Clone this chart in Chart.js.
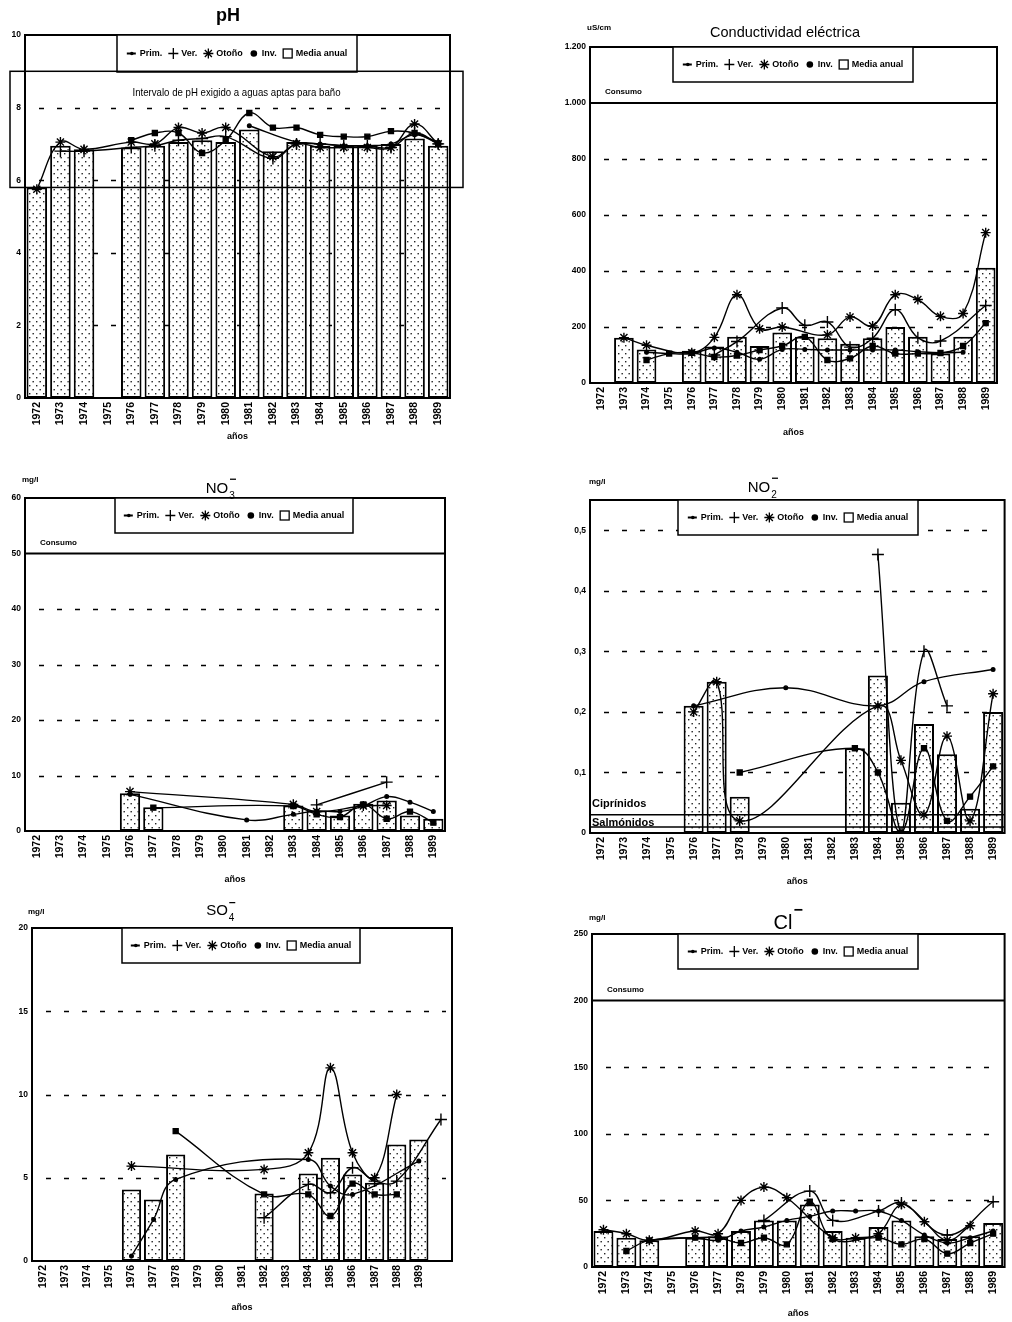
<!DOCTYPE html>
<html><head><meta charset="utf-8">
<script src="https://cdn.jsdelivr.net/npm/chart.js@4.4.0/dist/chart.umd.min.js"></script>
<style>
body{margin:0;background:#fff;width:1012px;height:1322px;position:relative;overflow:hidden}
canvas{position:absolute}
</style></head><body>
<canvas id="c1"></canvas><canvas id="c2"></canvas><canvas id="c3"></canvas>
<canvas id="c4"></canvas><canvas id="c5"></canvas><canvas id="c6"></canvas>
<script>
// ---------------- DATA ----------------
const years = ['1972','1973','1974','1975','1976','1977','1978','1979','1980','1981','1982','1983','1984','1985','1986','1987','1988','1989'];
const yearsSO4 = years.concat(['']);

// pH
const phMedia = [5.8,6.95,6.85,null,6.9,6.95,7.05,7.1,7.05,7.4,6.8,7.05,6.95,6.95,6.95,7.0,7.15,6.95];
const phPrim  = [null,null,null,null,null,null,null,null,null,7.5,null,7.05,7.0,6.95,6.95,7.0,7.25,7.05];
const phVer   = [null,6.8,6.8,null,6.9,6.95,7.1,7.15,7.2,null,6.6,7.0,7.0,6.95,6.95,6.9,7.3,7.0];
const phOtono = [5.75,7.05,6.85,null,7.05,7.0,7.45,7.3,7.45,null,6.65,7.0,6.9,6.9,6.9,6.9,7.55,7.0];
const phInv   = [null,null,null,null,7.1,7.3,7.3,6.75,7.1,7.85,7.45,7.45,7.25,7.2,7.2,7.35,7.3,7.0];
const phTicks = [0,2,4,6,8,10];
const phTickLabels = ['0','2','4','6','8','10'];
const phRange = [5.8, 9];

// Conductividad eléctrica (uS/cm)
const condMedia = [null,162,120,null,115,130,165,132,180,165,160,140,160,200,165,105,165,412];
const condPrim  = [null,null,110,105,105,125,110,85,120,120,118,118,118,118,112,108,110,null];
const condVer   = [null,null,null,null,null,100,148,null,268,206,218,128,160,262,162,150,null,277];
const condOtono = [null,162,135,null,108,163,315,194,200,null,172,236,204,315,298,238,248,537];
const condInv   = [null,null,82,105,108,93,98,118,132,165,82,88,132,105,105,107,132,214];
const condTicks = [0,200,400,600,800,1000,1200];
const condTickLabels = ['0','200','400','600','800','1.000','1.200'];
const condConsumo = 1000;

// NO3 (mg/l)
const no3Media = [null,null,null,null,6.8,4.3,null,null,null,null,null,4.6,3.7,2.8,4.9,5.5,2.8,2.2];
const no3Prim  = [null,null,null,null,6.6,null,null,null,null,2.0,null,3.0,3.6,3.5,4.5,6.2,5.2,3.5];
const no3Ver   = [null,null,null,null,null,null,null,null,null,null,null,null,4.7,null,null,8.8,null,null];
const no3Otono = [null,null,null,null,7.1,null,null,null,null,null,null,4.8,3.5,null,4.5,4.6,null,null];
const no3Inv   = [null,null,null,null,null,4.2,null,null,null,null,null,4.5,3.0,2.5,4.8,2.2,3.5,1.5];
const no3Ticks = [0,10,20,30,40,50,60];
const no3TickLabels = ['0','10','20','30','40','50','60'];
const no3Consumo = 50;

// NO2 (mg/l)
const no2Media = [null,null,null,null,0.21,0.25,0.06,null,null,null,null,0.14,0.26,0.05,0.18,0.13,0.04,0.20];
const no2Prim  = [null,null,null,null,0.21,null,null,null,0.24,null,null,null,0.21,null,0.25,null,null,0.27];
const no2Ver   = [null,null,null,null,null,null,null,null,null,null,null,null,0.46,0.0,0.30,0.21,null,null];
const no2Otono = [null,null,null,null,0.20,0.25,0.02,null,null,null,null,null,0.21,0.12,0.03,0.16,0.02,0.23];
const no2Inv   = [null,null,null,null,null,null,0.10,null,null,null,null,0.14,0.10,0.0,0.14,0.02,0.06,0.11];
const no2Ticks = [0,0.1,0.2,0.3,0.4,0.5];
const no2TickLabels = ['0','0,1','0,2','0,3','0,4','0,5'];
const no2Ciprinidos = 0.03;
const no2Salmonidos = 0.01;

// SO4 (mg/l)
const so4Media = [null,null,null,null,4.3,3.7,6.4,null,null,null,4.05,null,5.25,6.2,5.2,4.7,7.0,7.3,null];
const so4Prim  = [null,null,null,null,0.3,2.5,4.9,null,null,null,null,null,6.1,4.5,4.0,null,null,6.0,null];
const so4Ver   = [null,null,null,null,null,null,null,null,null,null,2.6,null,4.6,4.1,5.6,4.8,4.8,null,8.5];
const so4Otono = [null,null,null,null,5.7,null,null,null,null,null,5.5,null,6.5,11.6,6.5,5.0,10.0,null,null];
const so4Inv   = [null,null,null,null,null,null,7.8,null,null,null,4.0,null,4.0,2.7,4.65,4.0,4.0,null,null];
const so4Ticks = [0,5,10,15,20];
const so4TickLabels = ['0','5','10','15','20'];

// Cl (mg/l)
const clMedia = [27,22,20,null,22,23,27,35,35,47,27,22,30,35,23,21,23,33];
const clPrim  = [null,null,20,null,22,20,27,30,35,38,42,42,42,35,24,18,22,27];
const clVer   = [null,null,null,null,null,null,null,35,null,57,35,null,42,48,null,24,null,49];
const clOtono = [28,25,20,null,27,25,50,60,52,null,22,22,25,47,34,20,31,null];
const clInv   = [null,12,20,null,22,22,18,22,17,49,21,null,22,17,21,10,18,25];
const clTicks = [0,50,100,150,200,250];
const clTickLabels = ['0','50','100','150','200','250'];
const clConsumo = 200;

// ---------------- DRAWING ----------------
const FONT = "'Liberation Sans', Arial, sans-serif";

function dotPattern(){
  const c=document.createElement('canvas'); c.width=7; c.height=8;
  const x=c.getContext('2d'); x.fillStyle='#fff'; x.fillRect(0,0,7,8);
  x.fillStyle='#222'; x.fillRect(1,1,1.4,1.4); x.fillRect(4.5,5,1.4,1.4);
  return x.createPattern(c,'repeat');
}

function drawMark(ctx,m,x,y){
  ctx.save(); ctx.strokeStyle='#000'; ctx.fillStyle='#000'; ctx.lineWidth=1.3; ctx.setLineDash([]);
  if(m==='line'){ctx.lineWidth=2; ctx.beginPath(); ctx.moveTo(x-5,y); ctx.lineTo(x+4,y); ctx.stroke(); ctx.beginPath(); ctx.arc(x,y,1.8,0,7); ctx.fill();}
  else if(m==='cross'){ctx.beginPath(); ctx.moveTo(x-5,y); ctx.lineTo(x+5,y); ctx.moveTo(x,y-5.5); ctx.lineTo(x,y+5.5); ctx.stroke();}
  else if(m==='star'){ctx.beginPath(); for(let k=0;k<4;k++){const an=k*Math.PI/4; ctx.moveTo(x-5*Math.cos(an),y-5*Math.sin(an)); ctx.lineTo(x+5*Math.cos(an),y+5*Math.sin(an));} ctx.stroke();}
  else if(m==='dot'){ctx.beginPath(); ctx.arc(x,y,3.3,0,7); ctx.fill();}
  else if(m==='box'){ctx.fillStyle='#fff'; ctx.fillRect(x-4.5,y-4.5,9,9); ctx.lineWidth=1.3; ctx.strokeRect(x-4.5,y-4.5,9,9);}
  ctx.restore();
}

function drawLegend(ctx,x0,y0,x1,y1){
  ctx.save();
  ctx.fillStyle='#fff'; ctx.fillRect(x0,y0,x1-x0,y1-y0);
  ctx.strokeStyle='#000'; ctx.lineWidth=1.5; ctx.setLineDash([]); ctx.strokeRect(x0,y0,x1-x0,y1-y0);
  ctx.font='bold 9px '+FONT;
  const items=[['line','Prim.'],['cross','Ver.'],['star','Otoño'],['dot','Inv.'],['box','Media anual']];
  const markW=13, gap=6;
  const total=items.reduce((t,[m,l])=>t+markW+ctx.measureText(l).width+gap,0)-gap;
  let x=(x0+x1)/2-total/2; const cy=(y0+y1)/2;
  items.forEach(([m,l])=>{
    drawMark(ctx,m,x+5,cy);
    ctx.fillStyle='#000'; ctx.textBaseline='middle'; ctx.textAlign='left';
    ctx.fillText(l,x+markW,cy+0.5);
    x+=markW+ctx.measureText(l).width+gap;
  });
  ctx.restore();
}

function drawChem(ctx,cx,cy,base,sub,sup,size,weight){
  ctx.save(); ctx.fillStyle='#000'; ctx.textBaseline='middle'; ctx.textAlign='left';
  ctx.font=(weight||'')+' '+size+'px '+FONT;
  const w=ctx.measureText(base).width;
  const x0=cx-w/2;
  ctx.fillText(base,x0,cy);
  ctx.font=(weight||'')+' '+Math.round(size*0.65)+'px '+FONT;
  if(sub) ctx.fillText(sub,x0+w+1,cy+size*0.5);
  if(sup){ ctx.font='bold '+Math.round(size*0.8)+'px '+FONT; ctx.fillText(sup,x0+w+1,cy-size*0.62); }
  ctx.restore();
}

function deco(s){
  return {id:'deco',
    beforeDatasetsDraw(chart){
      const {ctx,chartArea:a,scales:{y}}=chart;
      ctx.save(); ctx.strokeStyle='#000'; ctx.lineWidth=1.5; ctx.setLineDash([5,13]);
      s.gridVals.forEach(v=>{const py=Math.round(y.getPixelForValue(v))+0.5; ctx.beginPath(); ctx.moveTo(a.left+14,py); ctx.lineTo(a.right-6,py); ctx.stroke();});
      ctx.restore();
    },
    afterDatasetsDraw(chart){
      const {ctx,chartArea:a,scales:{y}}=chart;
      const [cl,ct]=s.box;
      ctx.save(); ctx.setLineDash([]); ctx.strokeStyle='#000'; ctx.fillStyle='#000';
      ctx.lineWidth=2; ctx.strokeRect(a.left,a.top,a.right-a.left,a.bottom-a.top);
      if(s.consumo!=null){
        const py=y.getPixelForValue(s.consumo);
        ctx.lineWidth=2; ctx.beginPath(); ctx.moveTo(a.left,py); ctx.lineTo(a.right,py); ctx.stroke();
        ctx.font='bold 8px '+FONT; ctx.textBaseline='alphabetic'; ctx.textAlign='left';
        ctx.fillText('Consumo',a.left+15,py-9);
      }
      (s.limits||[]).forEach(l=>{
        const py=y.getPixelForValue(l.v);
        ctx.lineWidth=1.5; ctx.beginPath(); ctx.moveTo(a.left,py); ctx.lineTo(a.right,py); ctx.stroke();
        ctx.font='bold 11px '+FONT; ctx.textBaseline='alphabetic'; ctx.textAlign='left';
        ctx.fillText(l.label,a.left+2,py-l.off);
      });
      if(s.legend){ const [x0,y0,x1,y1]=s.legend; drawLegend(ctx,x0-cl,y0-ct,x1-cl,y1-ct); }
      if(s.phBox){
        const yt=y.getPixelForValue(s.phBox.hi), yb=y.getPixelForValue(s.phBox.lo);
        ctx.lineWidth=1.5; ctx.strokeRect(a.left-15,yt,(a.right-a.left)+28,yb-yt);
        ctx.font="11px "+FONT; ctx.textAlign='center'; ctx.textBaseline='middle';
        const tw=ctx.measureText(s.phBox.text).width, target=208;
        const cx=(a.left+a.right)/2-1;
        ctx.translate(cx,yt+22); ctx.scale(target/tw,1);
        ctx.fillText(s.phBox.text,0,0);
      }
      ctx.restore();
    },
    afterDraw(chart){
      const ctx=chart.ctx; const [cl,ct]=s.box;
      ctx.save();
      const t=s.title;
      drawChem(ctx,t.x-cl,t.y-ct,t.base,t.sub,t.sup,t.size,t.weight);
      if(s.unit){ ctx.font='bold 8px '+FONT; ctx.fillStyle='#000'; ctx.textAlign='left'; ctx.textBaseline='middle'; ctx.fillText(s.unit.text,s.unit.x-cl,s.unit.y-ct); }
      ctx.restore();
    }
  };
}

function makeChart(s){
  const cv=document.getElementById(s.id);
  const [cl,ct,cw,ch]=s.box;
  cv.style.left=cl+'px'; cv.style.top=ct+'px'; cv.width=cw; cv.height=ch;
  const [L,T,R,B]=s.plot;
  const yW=L-cl, xH=ct+ch-B;
  const pattern=dotPattern();
  const lineDs=(label,data,style,r)=>({type:'line',label,data,borderColor:'#000',backgroundColor:'#000',
    pointBorderColor:'#000',pointBackgroundColor:'#000',borderWidth:1.4,pointStyle:style,pointRadius:r,
    pointBorderWidth:1.4,tension:0.4,spanGaps:true,order:1,fill:false});
  new Chart(cv,{
    type:'bar',
    data:{labels:s.labels,datasets:[
      {type:'bar',label:'Media anual',data:s.media,backgroundColor:pattern,borderColor:'#000',borderWidth:2,
       borderSkipped:false,barPercentage:0.87,categoryPercentage:1,order:5},
      lineDs('Prim.',s.prim,'circle',1.8),
      lineDs('Ver.',s.ver,'cross',6),
      lineDs('Otoño',s.otono,'star',5),
      lineDs('Inv.',s.inv,'rect',3.5)
    ]},
    options:{responsive:false,animation:false,events:[],devicePixelRatio:1,
      layout:{padding:{top:T-ct,right:cl+cw-R,left:0,bottom:0}},
      plugins:{legend:{display:false},tooltip:{enabled:false},title:{display:false}},
      scales:{
        x:{grid:{display:false,drawTicks:false},border:{display:false},
           ticks:{autoSkip:false,minRotation:90,maxRotation:90,color:'#000',font:{family:FONT,size:10.5,weight:'bold'},padding:4},
           title:{display:true,text:'años',color:'#000',font:{family:FONT,size:9,weight:'bold'},padding:0},
           afterFit:sc=>{sc.height=xH;}},
        y:{min:0,max:s.yMax,grid:{display:false,drawTicks:false},border:{display:false},
           afterBuildTicks:sc=>{sc.ticks=s.ticks.map(v=>({value:v}));},
           ticks:{color:'#000',font:{family:FONT,size:8.5,weight:'bold'},padding:4,
             callback:(v)=>{const i=s.ticks.findIndex(t=>Math.abs(t-v)<1e-9);return i>=0?s.tickLabels[i]:'';}},
           afterFit:sc=>{sc.width=yW;}}
      }},
    plugins:[deco(s)]
  });
}

makeChart({id:'c1',box:[0,0,470,442],plot:[25,35,450,398],labels:years,
  media:phMedia,prim:phPrim,ver:phVer,otono:phOtono,inv:phInv,
  yMax:10,ticks:phTicks,tickLabels:phTickLabels,gridVals:[2,4,6,8],
  legend:[117,35,357,72],
  phBox:{lo:phRange[0],hi:phRange[1],text:'Intervalo de pH exigido a aguas aptas para baño'},
  title:{x:228,y:16,base:'pH',size:18,weight:'bold'}});

makeChart({id:'c2',box:[540,0,472,438],plot:[590,47,997,383],labels:years,
  media:condMedia,prim:condPrim,ver:condVer,otono:condOtono,inv:condInv,
  yMax:1200,ticks:condTicks,tickLabels:condTickLabels,gridVals:[200,400,600,800],
  consumo:condConsumo,legend:[673,47,913,82],
  title:{x:785,y:33,base:'Conductividad eléctrica',size:14.5,weight:''},
  unit:{text:'uS/cm',x:587,y:28}});

makeChart({id:'c3',box:[0,470,470,415],plot:[25,498,445,831],labels:years,
  media:no3Media,prim:no3Prim,ver:no3Ver,otono:no3Otono,inv:no3Inv,
  yMax:60,ticks:no3Ticks,tickLabels:no3TickLabels,gridVals:[10,20,30,40],
  consumo:no3Consumo,legend:[115,498,353,533],
  title:{x:217,y:489,base:'NO',sub:'3',sup:'−',size:15,weight:''},
  unit:{text:'mg/l',x:22,y:480}});

makeChart({id:'c4',box:[540,470,472,417],plot:[590,500,1005,833],labels:years,
  media:no2Media,prim:no2Prim,ver:no2Ver,otono:no2Otono,inv:no2Inv,
  yMax:0.55,ticks:no2Ticks,tickLabels:no2TickLabels,gridVals:[0.1,0.2,0.3,0.4,0.5],
  limits:[{v:no2Ciprinidos,label:'Ciprínidos',off:8},{v:no2Salmonidos,label:'Salmónidos',off:1}],
  legend:[678,500,918,535],
  title:{x:759,y:488,base:'NO',sub:'2',sup:'−',size:15,weight:''},
  unit:{text:'mg/l',x:589,y:482}});

makeChart({id:'c5',box:[0,900,470,413],plot:[32,928,452,1261],labels:yearsSO4,
  media:so4Media,prim:so4Prim,ver:so4Ver,otono:so4Otono,inv:so4Inv,
  yMax:20,ticks:so4Ticks,tickLabels:so4TickLabels,gridVals:[5,10,15],
  legend:[122,928,360,963],
  title:{x:217,y:911,base:'SO',sub:'4',sup:'=',size:15,weight:''},
  unit:{text:'mg/l',x:28,y:912}});

makeChart({id:'c6',box:[540,900,472,419],plot:[592,934,1007,1267],labels:years,
  media:clMedia,prim:clPrim,ver:clVer,otono:clOtono,inv:clInv,
  yMax:250,ticks:clTicks,tickLabels:clTickLabels,gridVals:[50,100,150],
  consumo:clConsumo,legend:[678,934,918,969],
  title:{x:783,y:923,base:'Cl',sup:'−',size:20,weight:''},
  unit:{text:'mg/l',x:589,y:918}});
</script>
</body></html>
